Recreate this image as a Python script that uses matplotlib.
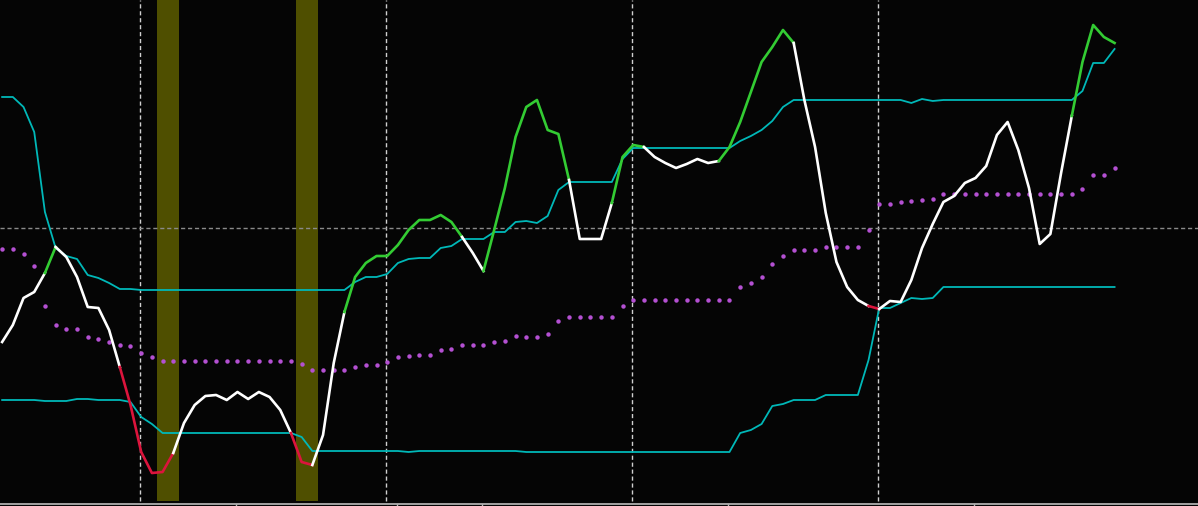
import numpy as np
import matplotlib.pyplot as plt

# indicator values, one per bar (105 bars)
main_line = [158, 175, 202, 208, 227, 253, 243, 223, 193, 192, 170, 133, 95, 48, 27, 28, 47, 77, 95, 104,
             105, 100, 108, 101, 108, 103, 90, 67, 38, 35, 65, 137, 188, 223, 237, 244, 244, 255, 270, 280,
             280, 285, 278, 263, 247, 229, 270, 312, 363, 393, 400, 370, 366, 320, 261, 261, 261, 297, 343, 355,
             353, 343, 337, 332, 336, 341, 337, 339, 353, 378, 408, 438, 453, 470, 457, 400, 353, 287, 238, 213,
             200, 194, 191, 199, 198, 220, 252, 276, 298, 304, 317, 322, 334, 365, 378, 350, 312, 256, 266, 327,
             384, 438, 475, 463, 457]

upper_band = [403, 403, 393, 368, 288, 252, 244, 241, 225, 222, 217, 211, 211] + [210] * 20 + \
             [218, 223, 223, 226, 237, 241, 242, 242, 252, 254, 261, 261, 261, 268, 268, 278, 279, 277, 284, 310,
              318, 318, 318, 318, 318, 341] + [352] * 10 + \
             [359, 364, 370, 379, 393] + [400] * 11 + [397, 401, 399] + [400] * 13 + [409, 437, 437, 451]

lower_band = [100, 100, 100, 100, 99, 99, 99, 101, 101, 100, 100, 100, 98, 83, 76] + [67] * 13 + \
             [63] + [49] * 9 + [48] + [49] * 10 + [48] * 20 + \
             [67, 70, 76, 94, 96, 100, 100, 100, 105, 105, 105, 105, 140, 192, 192, 197, 202, 201, 202] + [213] * 17

signal_ma = [251, 251, 246, 234, 194, 175, 171, 171, 163, 161, 158, 155, 154, 147, 143] + [139] * 13 + \
            [136, 130, 130, 130, 130, 133, 135, 135, 138, 143, 144, 145, 145, 150, 151, 155, 155, 155, 158, 159,
             164, 163, 163, 166, 179] + [183] * 5 + [194] + [200] * 10 + \
            [213, 217, 223, 236, 244, 250, 250, 250, 253, 253, 253, 253, 270, 296, 296, 298, 299, 300, 301] + \
            [306] * 13 + [311, 325, 325, 332]

# colour state of the main line, as runs of segments
color_runs = [("w", 4), ("g", 1), ("w", 6), ("r", 5), ("w", 11), ("r", 2), ("w", 3), ("g", 11), ("w", 2),
              ("g", 8), ("w", 4), ("g", 3), ("w", 7), ("g", 7), ("w", 7), ("r", 1), ("w", 18), ("g", 4)]
signal_bars = [15, 16, 28, 29]
grid_bars = [13, 36, 59, 82]
level = 272
time_ticks = [21.9, 36.9, 44.9, 67.9, 90.9]

colors = {"w": "#ffffff", "g": "#33cc33", "r": "#dc143c"}
x = np.arange(len(main_line))

fig = plt.figure(figsize=(11.98, 5.0601), dpi=100, facecolor="#050505")
ax = fig.add_axes([0, 2 / 506, 1, 504 / 506])
ax.set_facecolor("#050505")
ax.set_xlim(-0.2, 111.8)
ax.set_ylim(-4, 500)

# signal bars
for b in signal_bars:
    ax.axvspan(b - 0.55, b + 0.5, ymin=3 / 504, ymax=1, color="#4f4f00", lw=0, zorder=1)

# grid
for g in grid_bars:
    ax.axvline(g - 0.08, ymin=3 / 504, ymax=1, color="#d0d0d0", lw=1, linestyle=(0, (3, 2)), zorder=2)
ax.axhline(level, color="#8a8a8a", lw=1, linestyle=(0, (3, 2)), zorder=2)

ax.plot(x, signal_ma, linestyle="none", marker="o", markersize=3.2, color="#b450d2",
        markeredgewidth=0, zorder=3)
ax.plot(x, upper_band, color="#00b8b8", lw=1.3, zorder=4)
ax.plot(x, lower_band, color="#00b8b8", lw=1.3, zorder=4)

start = 0
for c, n in color_runs:
    ax.plot(x[start:start + n + 1], main_line[start:start + n + 1], color=colors[c], lw=1.9,
            solid_joinstyle="round", zorder=5)
    start += n

for s in ["top", "left", "right"]:
    ax.spines[s].set_visible(False)
ax.spines["bottom"].set_color("#bdbdbd")
ax.spines["bottom"].set_linewidth(1.2)
ax.set_yticks([])
ax.set_xticks(time_ticks)
ax.set_xticklabels([])
ax.tick_params(axis="x", direction="out", length=2, color="#bdbdbd", width=1)

plt.savefig("out.png", dpi=100, facecolor=fig.get_facecolor())
